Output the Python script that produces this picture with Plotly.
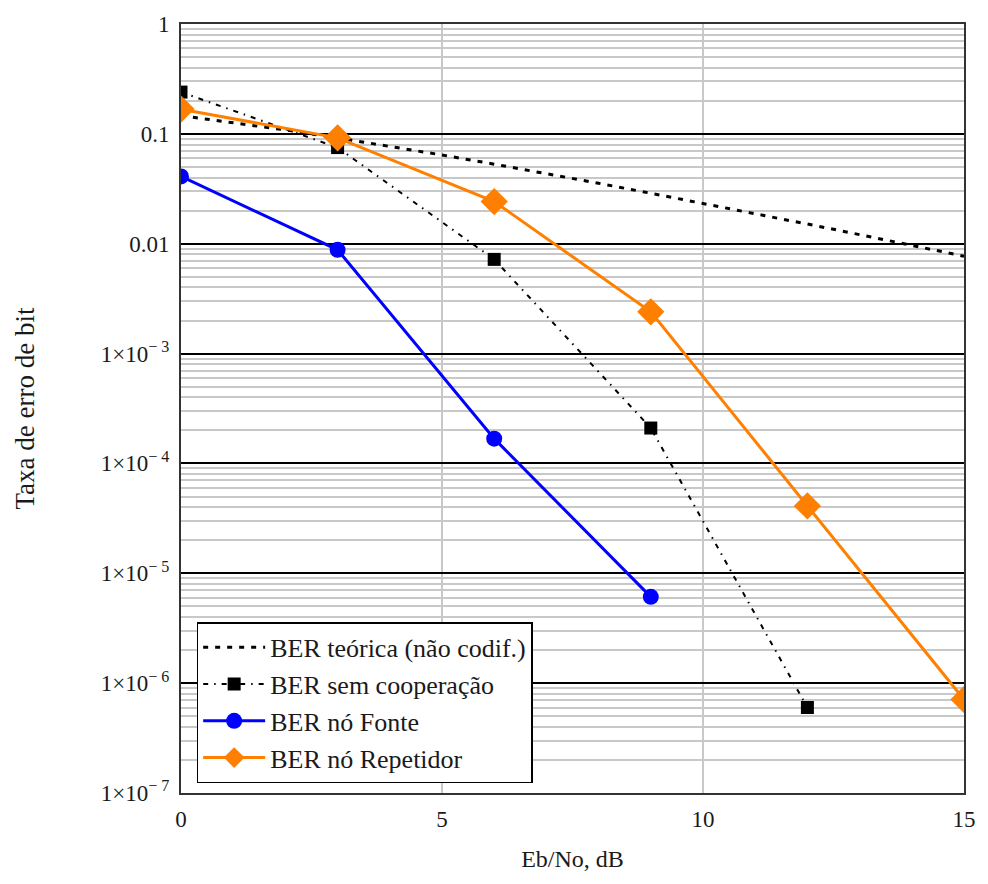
import plotly.graph_objects as go

# Data
ebno_theory = list(range(0, 16))
ber_theory = [0.1464, 0.1267, 0.1085, 0.0919, 0.0771, 0.0642, 0.0530, 0.0435,
              0.0355, 0.0288, 0.0233, 0.0187, 0.0151, 0.0121, 0.0097, 0.0077]

ebno_semcoop = [0, 3, 6, 9, 12]
ber_semcoop = [0.24, 0.075, 0.0072, 2.1e-4, 6.0e-7]

ebno_fonte = [0, 3, 6, 9]
ber_fonte = [0.041, 0.0088, 1.68e-4, 6.1e-6]

ebno_rep = [0, 3, 6, 9, 12, 15]
ber_rep = [0.168, 0.092, 0.0242, 2.4e-3, 4.1e-5, 7.1e-7]

names = ["BER teórica (não codif.)", "BER sem cooperação", "BER nó Fonte", "BER nó Repetidor"]

y_tickvals = [1, 0.1, 0.01, 1e-3, 1e-4, 1e-5, 1e-6, 1e-7]
y_ticktext = ["1", "0.1", "0.01", "1×10<sup>− 3</sup>", "1×10<sup>− 4</sup>",
              "1×10<sup>− 5</sup>", "1×10<sup>− 6</sup>", "1×10<sup>− 7</sup>"]
x_tickvals = [0, 5, 10, 15]

minor_vals = [m * 10.0 ** e for e in range(-7, 0) for m in range(2, 10)]

FONT = "Liberation Serif"
TXT = "#1a1a1a"

fig = go.Figure()
fig.add_trace(go.Scatter(x=ebno_theory, y=ber_theory, mode="lines", name=names[0],
                         line=dict(color="black", width=3, dash="5px,7px")))
fig.add_trace(go.Scatter(x=ebno_semcoop, y=ber_semcoop, mode="lines+markers", name=names[1],
                         line=dict(color="black", width=2, dash="5px,6px,1.5px,6px"),
                         marker=dict(symbol="square", size=13, color="black")))
fig.add_trace(go.Scatter(x=ebno_fonte, y=ber_fonte, mode="lines+markers", name=names[2],
                         line=dict(color="#0000FF", width=3),
                         marker=dict(symbol="circle", size=16, color="#0000FF")))
fig.add_trace(go.Scatter(x=ebno_rep, y=ber_rep, mode="lines+markers", name=names[3],
                         line=dict(color="#FF8000", width=3),
                         marker=dict(symbol="diamond", size=21, color="#FF8000")))

fig.update_layout(
    width=988, height=884,
    margin=dict(l=181, r=20, t=23, b=91),
    paper_bgcolor="white", plot_bgcolor="white",
    font=dict(family=FONT, size=22, color=TXT),
    showlegend=True,
    legend=dict(x=0.02, y=0.222, xanchor="left", yanchor="top",
                bordercolor="black", borderwidth=1.5, bgcolor="white",
                font=dict(family=FONT, size=26, color=TXT),
                tracegroupgap=0, itemwidth=62),
)
fig.update_xaxes(
    range=[0, 15], tickvals=x_tickvals, ticktext=[str(v) for v in x_tickvals],
    tickfont=dict(family=FONT, size=23, color=TXT),
    showgrid=True, gridcolor="#c8c8c8", gridwidth=1.5,
    showline=True, linecolor="#333333", linewidth=2, mirror=True,
    zeroline=False, ticks="", ticklabelstandoff=4,
    title=dict(text="Eb/No, dB", font=dict(family=FONT, size=24, color=TXT), standoff=20),
)
fig.update_yaxes(
    type="log", range=[-7, 0], tickvals=y_tickvals, ticktext=y_ticktext,
    tickfont=dict(family=FONT, size=23, color=TXT),
    showgrid=True, gridcolor="black", gridwidth=1.5,
    minor=dict(tickvals=minor_vals, showgrid=True, gridcolor="#c8c8c8", gridwidth=1.5, ticks=""),
    showline=True, linecolor="#333333", linewidth=2, mirror=True,
    zeroline=False, ticks="", ticklabelstandoff=5,
    title=dict(text="Taxa de erro de bit", font=dict(family=FONT, size=27, color=TXT), standoff=58),
)

fig.write_html("out.html")
